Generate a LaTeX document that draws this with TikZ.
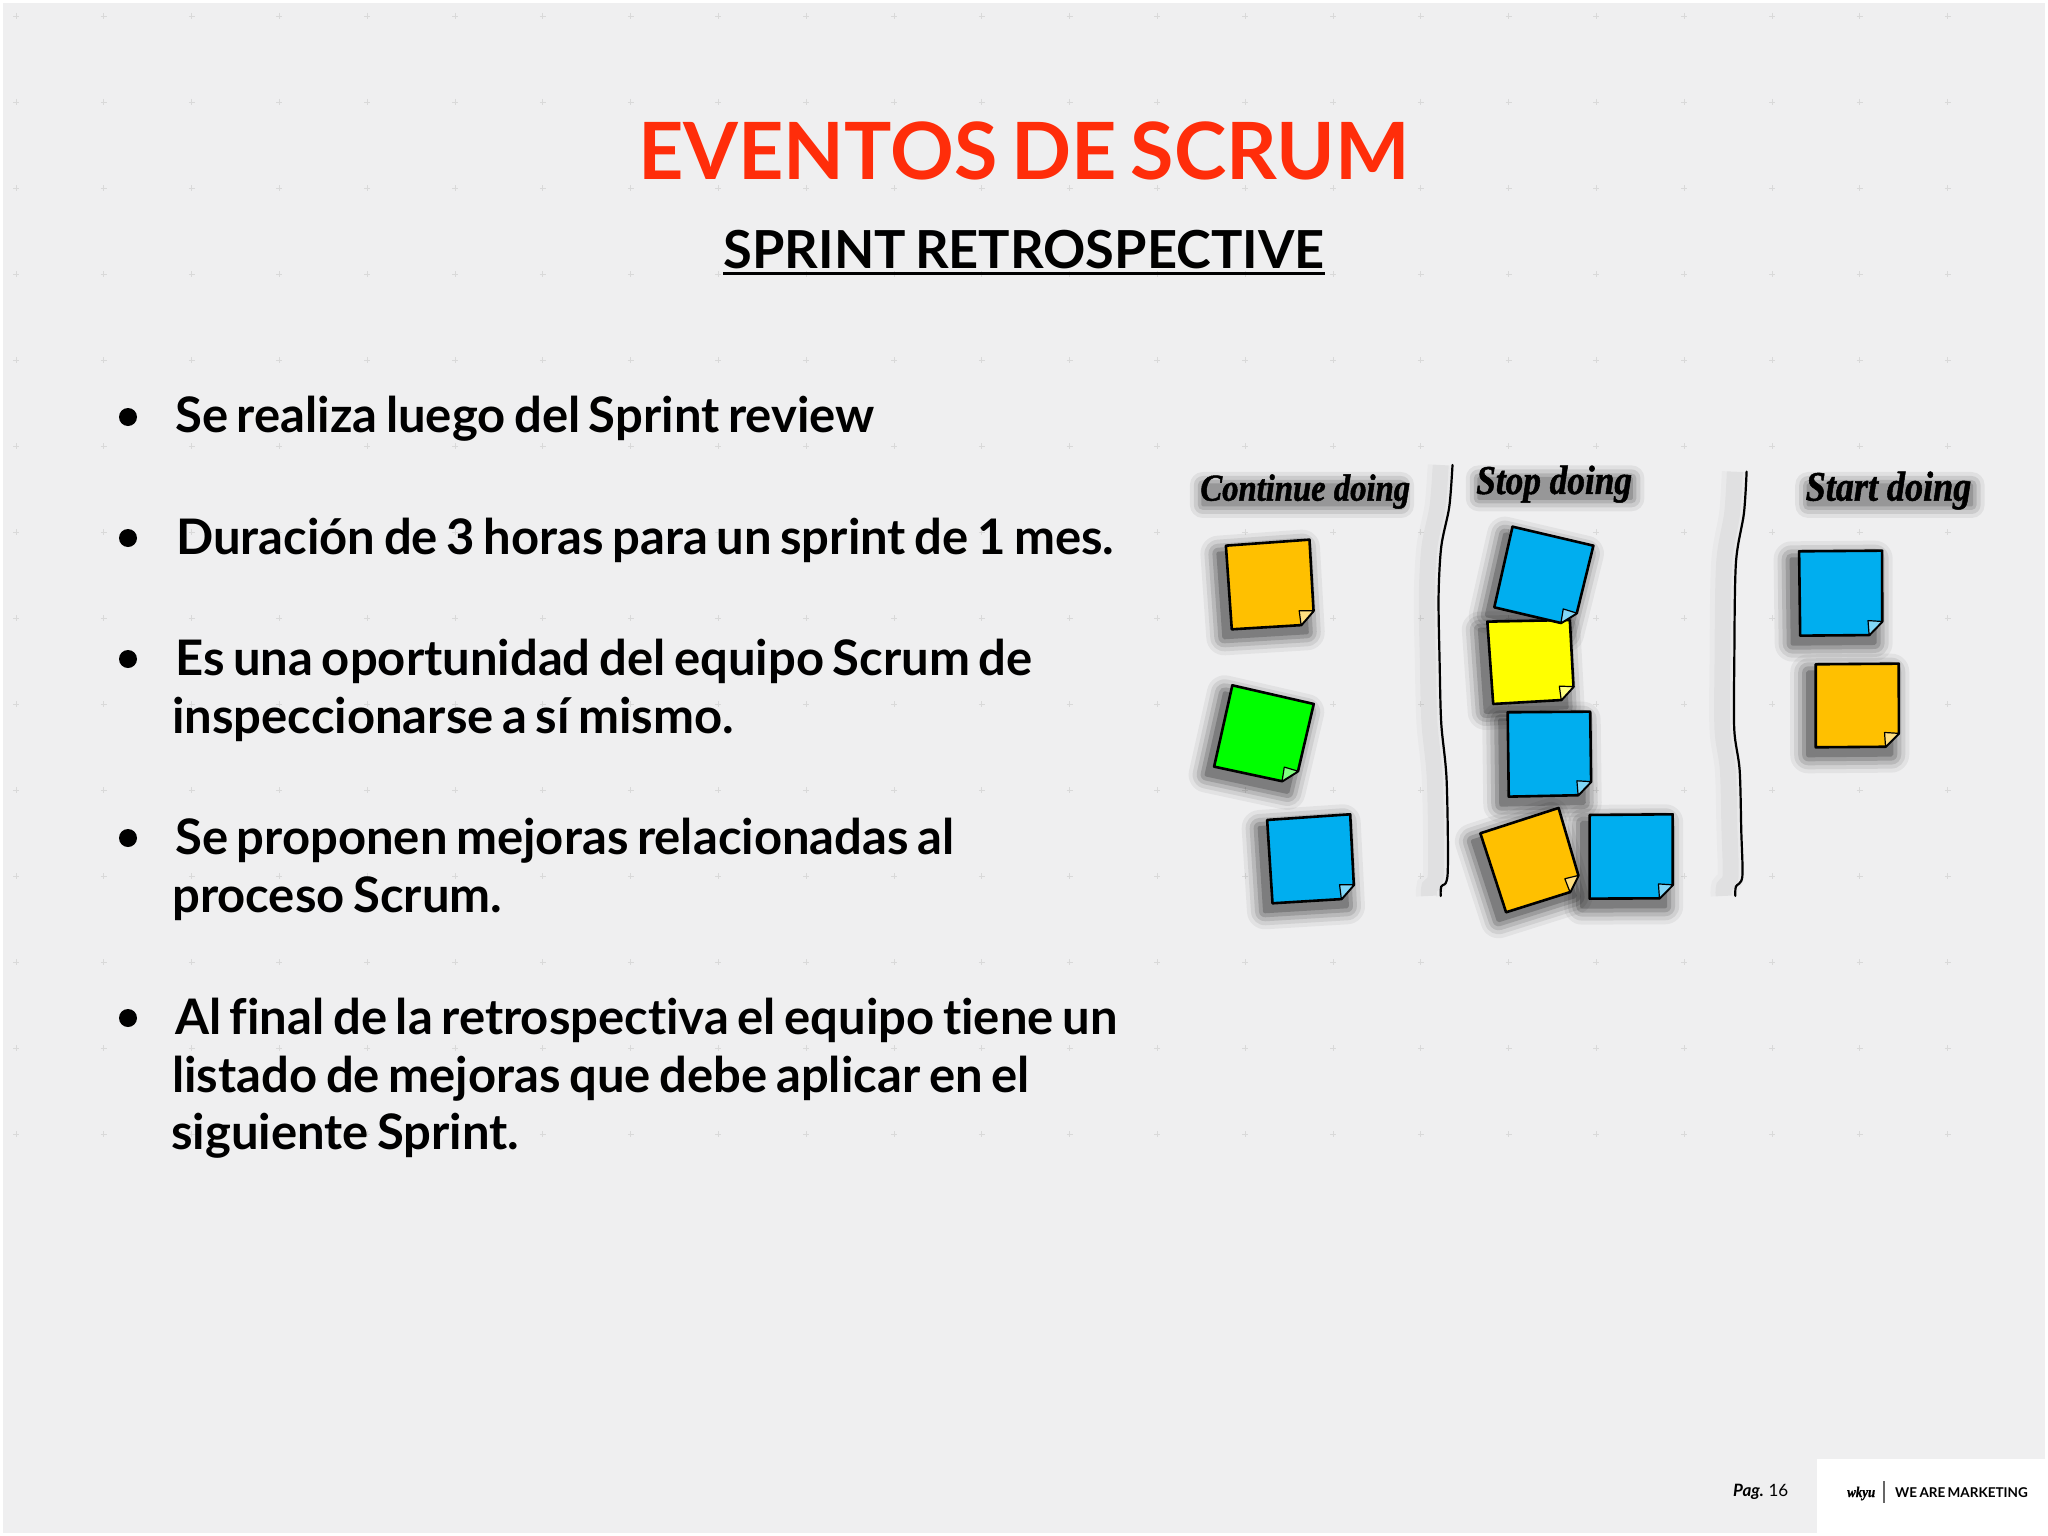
\documentclass[tikz,border=0pt]{standalone}
\usepackage{fontspec}
\usetikzlibrary{calc}
\setmainfont[WordSpace=0.72,Ligatures=NoCommon]{Lato}
\newfontfamily\headfont[FakeStretch=0.86,FakeBold=1.2]{Liberation Serif}
\definecolor{slidebg}{HTML}{EFEFF0}
\definecolor{titlered}{HTML}{FF2D0A}
\definecolor{noteorange}{HTML}{FFC000}
\definecolor{noteblue}{HTML}{00AEEF}
\definecolor{notegreen}{HTML}{00FF00}
\definecolor{noteyellow}{HTML}{FFFF00}
\tikzset{
  bodyline/.style={anchor=base west,inner sep=0pt,font=\fontsize{49}{58}\selectfont\bfseries},
  dotbullet/.style={circle,fill=black,inner sep=0pt,minimum size=18pt},
  columnhead/.style={anchor=base west,inner sep=0pt,font=\fontsize{#1}{40}\headfont\bfseries\itshape},
  gridmark/.style={black!15,line width=0.9pt},
  divider/.style={black,line width=2.2pt,line cap=round}
}
% soft shadow of a sticky note
\newcommand{\noteshadow}[5]{
  \foreach \w/\o in {36/.05,28/.08,20/.11,12/.15,4/.2} {
    \begin{scope}[transparency group,opacity=\o,shift={(-14,24)}]
      \filldraw[black,line width=\w pt,line join=round] #1 -- #2 -- #3 -- #4 -- cycle;
    \end{scope}
  }
}
% sticky note from its four corners, bottom right one folded
\newcommand{\notebody}[5]{
  \coordinate (foldr) at ($#3!0.16!#2$);
  \coordinate (foldb) at ($#3!0.16!#4$);
  \filldraw[fill=#5,draw=black,line width=2.6pt,line join=round]
    #1 -- #2 -- (foldr) -- (foldb) -- #4 -- cycle;
  \filldraw[fill=white!50!#5,draw=black,line width=1.2pt,line join=round]
    (foldr) -- ($(foldr)!0.5!(foldb)!0.1!#1$) -- (foldb) -- cycle;
}
% all notes of the board, in stacking order
\newcommand{\boardnotes}[1]{
  #1{(123,347)}{(279,329)}{(288,583)}{(134,598)}{noteorange}
  #1{(135,766)}{(287,822)}{(252,1062)}{(101,1010)}{notegreen}
  #1{(200,1170)}{(355,1153)}{(363,1405)}{(210,1420)}{noteblue}
  #1{(611,575)}{(765,570)}{(773,808)}{(622,822)}{noteyellow}
  #1{(658,290)}{(809,347)}{(772,588)}{(624,532)}{noteblue}
  #1{(649,847)}{(803,845)}{(805,1095)}{(651,1100)}{noteblue}
  #1{(598,1210)}{(744,1134)}{(788,1375)}{(646,1447)}{noteorange}
  #1{(802,1155)}{(957,1153)}{(957,1405)}{(802,1406)}{noteblue}
  #1{(1193,364)}{(1348,362)}{(1348,615)}{(1195,617)}{noteblue}
  #1{(1224,703)}{(1379,701)}{(1379,950)}{(1224,952)}{noteorange}
}
% blurred grey patch behind the column heads
\newcommand{\greypatch}[2]{
  \foreach \w/\o in {26/.06,18/.09,10/.12,3/.15} {
    \begin{scope}[transparency group,opacity=\o]
      \filldraw[black,line width=\w pt,line join=round] #1 rectangle #2;
    \end{scope}
  }
}
\newcommand{\firstdivider}{plot[smooth] coordinates {(546,105) (540,230) (525,350) (520,500) (522,700) (525,880) (535,1050) (537,1330) (525,1370) (524,1398)}}
\newcommand{\seconddivider}{plot[smooth] coordinates {(1095,125) (1090,250) (1075,400) (1072,700) (1072,900) (1082,1020) (1085,1200) (1087,1340) (1075,1370) (1074,1398)}}
\begin{document}
\begin{tikzpicture}[x=1pt,y=-1pt]
  \useasboundingbox (0,0) rectangle (2048,1536);
  \fill[white] (0,0) rectangle (2048,1536);
  \fill[slidebg] (3,3) rectangle (2045,1533);
  \foreach \i in {0,...,22}
    \foreach \j in {0,...,13} {
      \draw[gridmark] ({16+87.8*\i-3},{16+86*\j}) -- ++(6,0);
      \draw[gridmark] ({16+87.8*\i},{16+86*\j-3}) -- ++(0,6);
    }

  \node[anchor=base,inner sep=0pt,text=titlered,font=\fontsize{79}{90}\selectfont\bfseries] (title) at (1024,179) {EVENTOS DE SCRUM};
  \node[anchor=base,inner sep=0pt,font=\fontsize{52.4}{60}\selectfont\bfseries] (subtitle) at (1024,268) {SPRINT RETROSPECTIVE};
  \draw[line width=3pt] (subtitle.base west) ++(0,5) -- ($(subtitle.base east)+(0,5)$);

  \node[dotbullet] (b1) at (128,417) {};
  \node[dotbullet] (b2) at (128,538) {};
  \node[dotbullet] (b3) at (128,659) {};
  \node[dotbullet] (b4) at (128,838) {};
  \node[dotbullet] (b5) at (128,1018) {};
  \node[bodyline] (l1) at (175,432) {Se realiza luego del Sprint review};
  \node[bodyline] (l2) at (176,554) {Duración de 3 horas para un sprint de 1 mes.};
  \node[bodyline] (l3) at (175,675) {Es una oportunidad del equipo Scrum de};
  \node[bodyline] (l4) at (172,733) {inspeccionarse a sí mismo.};
  \node[bodyline] (l5) at (175,854) {Se proponen mejoras relacionadas al};
  \node[bodyline] (l6) at (172,912) {proceso Scrum.};
  \node[bodyline] (l7) at (175,1034) {Al final de la retrospectiva el equipo tiene un};
  \node[bodyline] (l8) at (172,1092) {listado de mejoras que debe aplicar en el};
  \node[bodyline] (l9) at (171,1149) {siguiente Sprint.};

  % retrospective board, coordinates in board units
  \begin{scope}[shift={(1160,430)},xscale=0.5357,yscale=0.3333]
    \greypatch{(80,165)}{(450,225)}
    \greypatch{(595,145)}{(880,205)}
    \greypatch{(1210,165)}{(1515,225)}
    \foreach \w/\o in {26/.025,16/.035} {
      \draw[black,opacity=\o,line width=\w pt,shift={(-22,0)}] \firstdivider;
      \draw[black,opacity=\o,line width=\w pt,shift={(-22,0)}] \seconddivider;
    }
    \node[columnhead=38] (conthead) at (75,212) {Continue doing};
    \node[columnhead=41] (stophead) at (590,192) {Stop doing};
    \node[columnhead=42] (starthead) at (1205,212) {Start doing};
    \draw[divider] \firstdivider;
    \draw[divider] \seconddivider;
    \boardnotes{\noteshadow}
    \boardnotes{\notebody}
  \end{scope}

  \fill[white] (1817,1459) rectangle (2048,1536);
  \node[anchor=base west,inner sep=0pt,font=\fontsize{17}{20}\selectfont] (pagenum) at (1733,1496) {\textbf{\textit{Pag.}} 16};
  \node[anchor=base west,inner sep=0pt,font=\fontsize{15}{16}\headfont\bfseries\itshape] (logomark) at (1847,1497) {wkyu};
  \draw[black!60,line width=2pt] (1884,1481) -- (1884,1503);
  \node[anchor=base west,inner sep=0pt,font=\fontsize{13.5}{16}\selectfont\bfseries] (logotext) at (1895,1497) {WE ARE MARKETING};
\end{tikzpicture}
\end{document}
